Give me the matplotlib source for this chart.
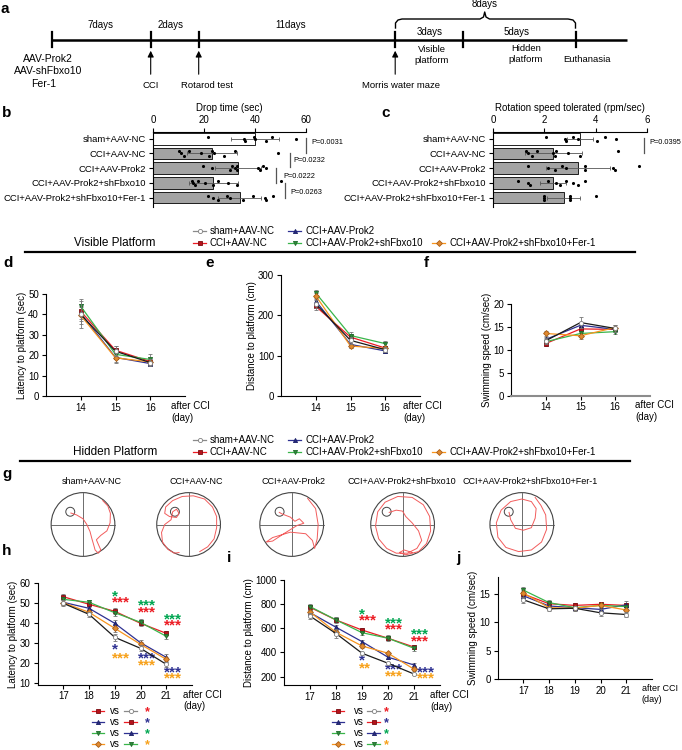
import numpy as np
import matplotlib
matplotlib.use('Agg')
import matplotlib.pyplot as plt
from matplotlib.patches import Circle

plt.rcParams['font.family'] = ['Liberation Sans', 'DejaVu Sans']
plt.rcParams['font.size'] = 7

W, H = 682, 750

groups = ['sham+AAV-NC', 'CCI+AAV-NC', 'CCI+AAV-Prok2',
          'CCI+AAV-Prok2+shFbxo10', 'CCI+AAV-Prok2+shFbxo10+Fer-1']

# ---- b: rotarod drop time (sec)
drop_mean = [40, 23, 33.5, 23.7, 34]
drop_err = [9.5, 9.8, 9, 9.5, 8.5]
drop_pts = [[21.5, 35.5, 36, 39.5, 40, 44.5, 46.5, 56],
            [10, 11, 12, 14, 19, 22, 23, 24, 28, 32, 49],
            [19.5, 23, 30, 31, 32, 33, 33, 41, 42, 43, 44.5],
            [15.2, 15.8, 16.5, 17.8, 20.4, 23.7, 25.6, 29.5, 32.8, 50],
            [21.7, 23.7, 25.6, 28.9, 30.2, 35.4, 39.3, 43.9, 44.3, 46.9]]
drop_p = ['P=0.0031', 'P=0.0232', 'P=0.0222', 'P=0.0263']

# ---- c: rotation speed tolerated (rpm/sec)
rot_mean = [3.4, 2.35, 3.3, 2.35, 2.75]
rot_err = [0.5, 1.1, 1.25, 0.5, 0.65]
rot_pts = [[2.05, 2.8, 2.85, 3.1, 3.3, 4.05, 4.35, 4.8],
           [1.3, 1.37, 1.5, 1.7, 2.35, 2.4, 2.47, 2.93, 3.38, 4.87],
           [1.37, 2.15, 2.4, 2.67, 2.86, 3.57, 3.57, 4.68, 4.74, 5.69],
           [0.98, 1.37, 1.46, 2.15, 2.47, 2.6, 2.86, 3.12, 3.32, 3.57],
           [1.98, 1.98, 1.98, 2.99, 2.99, 2.99, 4.0]]
rot_p = ['P=0.0395']

# ---- d-f: visible platform
days_vis = [14, 15, 16]
lat_vis = [[40, 22, 16.5], [41.5, 22.5, 17], [40.5, 19, 16], [44, 20.5, 18], [39.5, 18.8, 16.8]]
lat_vis_err = [[6.5, 2.5, 1.5], [3.5, 2, 1.5], [3.5, 2, 1.2], [3.5, 2.5, 2.5], [4, 2.5, 1.5]]
dist_vis = [[228, 138, 115], [222, 146, 119], [235, 128, 112], [255, 150, 130], [248, 124, 118]]
dist_vis_err = [[10, 8, 6], [8, 8, 6], [8, 8, 6], [8, 8, 6], [8, 6, 6]]
speed_vis = [[12.0, 16.0, 14.7], [11.4, 14.6, 14.5], [12.3, 15.4, 14.5],
             [11.8, 13.6, 14.0], [13.6, 13.1, 14.9]]
speed_vis_err = [[0.7, 1.3, 0.8], [0.5, 0.8, 0.6], [0.6, 0.8, 0.6], [0.6, 0.7, 0.5], [0.6, 0.7, 0.6]]

# ---- h-j: hidden platform
days_hid = [17, 18, 19, 20, 21]
lat_hid = [[50, 44.5, 33, 27.5, 19.5], [53.3, 49.5, 46, 40, 35], [50.5, 47.5, 40, 30.3, 23],
           [52, 50.5, 45.3, 40.5, 33.5], [50.3, 45.5, 37.5, 29.5, 22]]
lat_hid_err = [[1.5, 1.2, 1.8, 1.5, 1.3], [1.2, 1.2, 1.5, 1.5, 1.2], [1.2, 1.2, 1.5, 1.2, 1.8],
               [1.5, 1.2, 1.5, 1.5, 1.5], [1.2, 1.2, 2, 1.2, 1.2]]
dist_hid = [[702, 557, 394, 311, 222], [774, 669, 586, 518, 445], [730, 609, 490, 361, 297],
            [780, 670, 564, 518, 435], [735, 567, 454, 394, 262]]
dist_hid_err = [[25, 40, 12, 12, 10], [20, 25, 20, 18, 15], [20, 20, 12, 12, 12],
                [25, 20, 18, 25, 20], [20, 20, 15, 12, 12]]
speed_hid = [[14.0, 12.4, 12.5, 11.7, 11.4], [15.0, 13.3, 13.0, 13.2, 13.0],
             [14.7, 12.9, 12.6, 12.3, 13.1], [15.7, 13.5, 12.6, 13.0, 12.8],
             [15.2, 12.6, 12.5, 13.0, 12.2]]
speed_hid_err = [[0.5, 0.4, 0.4, 0.6, 0.5], [0.5, 0.4, 0.4, 0.4, 0.4], [0.6, 0.4, 0.4, 0.4, 0.7],
                 [0.6, 0.4, 0.4, 0.4, 0.5], [0.6, 0.4, 0.4, 0.4, 0.5]]

# significance marks (day, value, text, colour key)
h_stars = [(19, 54, '*', 'g'), (19, 51, '***', 'r'), (20, 49.5, '***', 'g'), (20, 46, '***', 'r'),
           (21, 42.5, '***', 'g'), (21, 39.5, '***', 'r'), (19, 27.5, '*', 'b'), (19, 23, '***', 'o'),
           (20, 23, '***', 'b'), (20, 19.5, '***', 'o'), (21, 16, '***', 'b'), (21, 13, '***', 'o')]
i_stars = [(19, 729, '*', 'g'), (19, 674, '***', 'r'), (20, 650, '***', 'g'), (20, 600, '***', 'r'),
           (21, 559, '***', 'g'), (21, 503, '***', 'r'), (19, 344, '*', 'b'), (19, 283, '**', 'o'),
           (20, 274, '***', 'b'), (20, 214, '***', 'o'), (21.2, 250, '***', 'b'), (21.2, 195, '***', 'o')]
star_col = {'r': '#ec1c24', 'b': '#2e3192', 'g': '#00a651', 'o': '#f7a11a'}

# swim traces (unit-circle coordinates)
platform_x = [-0.4, -0.43, -0.38, -0.5, -0.41]
traces = [
    [(-0.38, 0.36), (-0.2, 0.3), (0.0, 0.18), (0.12, 0.0), (0.22, -0.22), (0.28, -0.45), (0.33, -0.62),
     (0.38, -0.8), (0.48, -0.9), (0.56, -0.8), (0.48, -0.62), (0.42, -0.48), (0.56, -0.34), (0.75, -0.2),
     (0.85, 0.05), (0.86, 0.35), (0.78, 0.58), (0.62, 0.75)],
    [(0.35, -0.85), (0.6, -0.7), (0.8, -0.45), (0.88, -0.1), (0.88, 0.25), (0.75, 0.55), (0.5, 0.8),
     (0.15, 0.9), (-0.2, 0.88), (-0.5, 0.75), (-0.72, 0.55), (-0.75, 0.35), (-0.6, 0.25), (-0.38, 0.22),
     (-0.3, 0.35), (-0.38, 0.48), (-0.5, 0.4), (-0.55, 0.15), (-0.75, 0.0), (-0.85, -0.25),
     (-0.82, -0.55), (-0.65, -0.78), (-0.45, -0.9), (-0.3, -0.88)],
    [(0.5, 0.82), (0.75, 0.5), (0.83, 0.0), (0.8, -0.45), (0.72, -0.75), (0.65, -0.5), (0.44, -0.29),
     (-0.04, -0.24), (-0.6, -0.41), (-0.8, -0.55), (-0.6, -0.52), (-0.25, -0.29), (0.17, -0.03),
     (0.38, 0.04), (0.24, 0.18), (0.1, 0.1), (-0.04, 0.23), (-0.3, 0.33), (-0.39, 0.38)],
    [(-0.42, 0.38), (-0.2, 0.45), (0.0, 0.42), (0.1, 0.25), (0.3, 0.05), (0.5, -0.2), (0.6, -0.5),
     (0.45, -0.75), (0.15, -0.9), (-0.2, -0.9), (-0.5, -0.75), (-0.75, -0.45), (-0.85, -0.05),
     (-0.78, 0.4), (-0.55, 0.7), (-0.15, 0.88), (0.3, 0.85), (0.65, 0.62), (0.85, 0.25), (0.88, -0.2),
     (0.75, -0.6), (0.5, -0.85), (0.1, -0.95), (-0.1, -0.88), (0.05, -0.8), (0.3, -0.88)],
    [(-0.4, 0.38), (-0.35, 0.15), (-0.2, -0.12), (0.05, -0.18), (0.3, -0.1), (0.42, 0.2), (0.45, 0.5),
     (0.3, 0.72), (0.0, 0.8), (-0.35, 0.72), (-0.65, 0.45), (-0.8, 0.05), (-0.75, -0.4), (-0.5, -0.72),
     (-0.1, -0.85), (0.3, -0.8), (0.62, -0.55), (0.78, -0.15), (0.75, 0.3), (0.6, 0.6), (0.42, 0.85)],
]

line_colors = ['#1a1a1a', '#ec1c24', '#2e3192', '#39b54a', '#f7941d']
leg_colors = ['#8a8a8a', '#ec1c24', '#2e3192', '#39b54a', '#f7941d']
markers = ['o', 's', '^', 'v', 'D']
mfc = ['white', '#b5121b', '#262a80', '#2e8b3a', '#e08a30']
mec = ['#808080', '#7a0c10', '#1b1f66', '#1f6b2a', '#a85c15']


def box(l, t, r, b):
    return [l / W, 1 - b / H, (r - l) / W, (b - t) / H]


fig = plt.figure(figsize=(W / 100, H / 100), dpi=100)
ov = fig.add_axes([0, 0, 1, 1])
ov.set_xlim(0, W)
ov.set_ylim(H, 0)
ov.axis('off')

# panel letters
for s, x, y in [('a', 5, 9), ('b', 7, 113), ('c', 386, 113), ('d', 8, 263), ('e', 210, 263),
                ('f', 426, 263), ('g', 7, 474), ('h', 7, 551), ('i', 229, 558), ('j', 458, 558)]:
    ov.text(x, y, s, fontsize=11, fontweight='bold', ha='center', va='center')

# ---- a: timeline
ov.plot([51.5, 627], [39.5, 39.5], color='k', lw=1.8, solid_capstyle='butt')
for x in [51.5, 150.7, 198.7, 395.2, 463, 575.5]:
    ov.plot([x, x], [32, 47], color='k', lw=1.6)
for x in [150.7, 198.7, 395.2]:
    ov.annotate('', xy=(x, 48), xytext=(x, 77),
                arrowprops=dict(arrowstyle='-|>', color='k', lw=0.8, mutation_scale=9))
bx = [395.5, 395.5, 398, 402, 480, 483.5, 484.7, 486, 489.5, 568, 573, 575.5, 575.5]
by = [28, 23, 20, 19, 19, 17, 12, 17, 19, 19, 20, 23, 28]
ov.plot(bx, by, color='k', lw=1.0)
for s, x, y, fs in [('7days', 100, 25, 7), ('2days', 171, 25, 7), ('11days', 291, 25, 7),
                    ('8days', 485, 4, 7), ('3days', 430, 32, 7), ('5days', 517, 32, 7),
                    ('AAV-Prok2', 48, 59, 7.5), ('AAV-shFbxo10', 48, 71, 7.5), ('Fer-1', 44, 84, 7.5),
                    ('CCI', 150.7, 85, 6.8), ('Rotarod test', 207, 85, 6.8),
                    ('Morris water maze', 401, 85, 6.8), ('Visible\nplatform', 432, 55, 6.8),
                    ('Hidden\nplatform', 526, 54, 6.8), ('Euthanasia', 587, 60, 6.8)]:
    ov.text(x, y, s, fontsize=fs, ha='center', va='center', linespacing=1.3)


# ---- b, c: bar + dot panels
def bar_panel(ax, means, errs, pts, xmax, ticks, title, plines, ptexts):
    ypos = np.arange(len(groups))
    colors = ['white'] + ['#a3a3a3'] * 4
    ax.barh(ypos, means, height=0.8, color=colors, edgecolor='k', lw=0.6,
            xerr=errs, error_kw=dict(ecolor='#555555', elinewidth=0.6, capsize=1.5, capthick=0.6))
    for i, p in enumerate(pts):
        p = np.sort(p)
        off = (np.arange(len(p)) % 3 - 1) * 0.14
        ax.scatter(p, i + off, s=5, c='k', zorder=3, lw=0)
    ax.set_ylim(4.64, -0.46)
    ax.set_xlim(0, xmax)
    ax.set_yticks(ypos)
    ax.set_yticklabels(groups)
    ax.set_xticks(ticks)
    ax.xaxis.tick_top()
    ax.xaxis.set_label_position('top')
    ax.set_xlabel(title, fontsize=7, labelpad=3)
    for s in ['right', 'bottom']:
        ax.spines[s].set_visible(False)
    for s in ['left', 'top']:
        ax.spines[s].set_linewidth(0.8)
    ax.tick_params(length=3, width=0.8, pad=2, labelsize=7)
    ax.tick_params(axis='y', labelsize=6.8)
    for (x, y0, y1), (tx, ty, t) in zip(plines, ptexts):
        ax.plot([x, x], [y0, y1], color='#555555', lw=0.9, clip_on=False)
        ax.text(tx, ty, t, fontsize=5.3, va='center', ha='left', clip_on=False)


axb = fig.add_axes(box(153, 132, 306, 207))
bar_panel(axb, drop_mean, drop_err, drop_pts, 60, [0, 20, 40, 60], 'Drop time (sec)',
          [(60, -0.07, 0.96), (53.7, 0.96, 1.92), (48.2, 2.0, 3.0), (51.8, 3.0, 4.04)],
          [(62.2, 0.27, drop_p[0]), (55, 1.5, drop_p[1]), (51, 2.58, drop_p[2]), (53.7, 3.63, drop_p[3])])
axc = fig.add_axes(box(493, 132, 647, 207))
bar_panel(axc, rot_mean, rot_err, rot_pts, 6, [0, 2, 4, 6], 'Rotation speed tolerated (rpm/sec)',
          [(5.88, -0.07, 0.96)], [(6.1, 0.27, rot_p[0])])


# ---- legends
def glyph(x, y, k, length=13):
    ov.plot([x, x + length], [y, y], color=leg_colors[k], lw=0.9)
    ov.plot([x + length / 2], [y], marker=markers[k], ms=3, mfc=mfc[k], mec=mec[k], mew=0.6, ls='none')


def group_legend(y1, y2, title, yline, x0, x1):
    spots = [(193, y1), (193, y2), (288, y1), (288, y2), (432, y2)]
    for k, (x, y) in zip([0, 1, 2, 3, 4], spots):
        glyph(x, y, k)
        ov.text(x + 17, y, groups[k], fontsize=7, va='center', ha='left')
    ov.text(115, y2, title, fontsize=8.5, ha='center', va='center')
    ov.plot([x0, x1], [yline, yline], color='k', lw=1.6)


group_legend(231, 243, 'Visible Platform', 252, 25, 635)
group_legend(440, 452, 'Hidden Platform', 461, 20, 630)


# ---- line panels
def line_panel(ax, days, vals, errs, xlim, ylim, yticks, ylabel, xoff, afs=7):
    for k in [1, 2, 3, 4, 0]:
        ax.errorbar(days, vals[k], yerr=errs[k], color=line_colors[k], lw=0.9,
                    marker=markers[k], ms=3, mfc=mfc[k], mec=mec[k], mew=0.6,
                    ecolor='#777777', elinewidth=0.6, capsize=1.2, capthick=0.6,
                    zorder=4 if k == 0 else 3)
    ax.set_xlim(*xlim)
    ax.set_ylim(*ylim)
    ax.set_xticks(days)
    ax.set_yticks(yticks)
    for s in ['top', 'right']:
        ax.spines[s].set_visible(False)
    for s in ['left', 'bottom']:
        ax.spines[s].set_linewidth(0.8)
    ax.tick_params(length=3, width=0.8, pad=2, labelsize=7)
    ax.set_ylabel(ylabel, fontsize=7, labelpad=1)
    ax.annotate('after CCI\n(day)', xy=(1, 0), xycoords='axes fraction', xytext=(xoff, -5),
                textcoords='offset pixels', ha='left', va='top', fontsize=afs, linespacing=1.2)


axd = fig.add_axes(box(46, 294, 185, 396.3))
line_panel(axd, days_vis, lat_vis, lat_vis_err, (13, 17), (0, 50), range(0, 51, 10),
           'Latency to platform (sec)', -14)
axe = fig.add_axes(box(281, 274.7, 420, 396.3))
line_panel(axe, days_vis, dist_vis, dist_vis_err, (13, 17), (0, 300), [0, 100, 200, 300],
           'Distance to platform (cm)', -17)
axf = fig.add_axes(box(511, 304.3, 650, 395.5))
line_panel(axf, days_vis, speed_vis, speed_vis_err, (13, 17), (0, 20), range(0, 21, 5),
           'Swimming speed (cm/sec)', -15)
axf.spines['bottom'].set_color('#8c8c8c')
axf.spines['bottom'].set_linewidth(1.5)

axh = fig.add_axes(box(37.5, 583.3, 192, 684.5))
line_panel(axh, days_hid, lat_hid, lat_hid_err, (16, 22), (9.4, 60), range(10, 61, 10),
           'Latency to platform (sec)', -9)
axi = fig.add_axes(box(284, 580, 440, 685))
line_panel(axi, days_hid, dist_hid, dist_hid_err, (16, 22), (131, 1000), range(200, 1001, 200),
           'Distance to platform (cm)', -10)
axj = fig.add_axes(box(497.5, 577, 652, 679.3))
line_panel(axj, days_hid, speed_hid, speed_hid_err, (16, 22), (0, 18), [0, 5, 10, 15],
           'Swimming speed (cm/sec)', -10, afs=6.5)

for ax, stars in [(axh, h_stars), (axi, i_stars)]:
    for x, y, s, c in stars:
        ha = 'center' if len(s) == 1 else 'left'
        xx = x if len(s) == 1 else x - 0.1
        ax.text(xx, y, s, color=star_col[c], fontsize=11, fontweight='bold', ha=ha,
                va='center_baseline', clip_on=False)

# "vs" legends under h and i
pairs = [(1, 0, 'r'), (2, 1, 'b'), (3, 2, 'g'), (4, 3, 'o')]
for xa, xvs, xb, xs in [(91.5, 110, 124, 147), (331.5, 354, 367, 386)]:
    for (a, b, c), y in zip(pairs, [711, 722, 733, 744]):
        glyph(xa, y, a, 12)
        ov.text(xvs, y, 'vs', fontsize=7, va='center', ha='left')
        glyph(xb, y, b, 13)
        ov.text(xs, y + 4, '*', color=star_col[c], fontsize=9, fontweight='bold', ha='center',
                va='baseline')

# ---- g: representative swim paths
centers = [83, 188.6, 291.7, 402.6, 521.8]
title_x = [92, 196, 294, 402, 530]
for k in range(5):
    ax = fig.add_axes(box(centers[k] - 36, 524.5 - 36, centers[k] + 36, 524.5 + 36))
    ax.set_xlim(-1.13, 1.13)
    ax.set_ylim(-1.13, 1.13)
    ax.axis('off')
    ax.add_patch(Circle((0, 0), 1, fill=False, ec='#444444', lw=0.8))
    ax.plot([-1, 1], [0, 0], color='#555555', lw=0.6)
    ax.plot([0, 0], [-1, 1], color='#555555', lw=0.6)
    ax.add_patch(Circle((platform_x[k], 0.4), 0.14, fill=False, ec='#444444', lw=0.7))
    tx, ty = zip(*traces[k])
    ax.plot(tx, ty, color='#f25c5c', lw=0.7, solid_joinstyle='round')
    ov.text(title_x[k], 482, groups[k], fontsize=6.5, ha='center', va='center')

fig.savefig('out.png', dpi=100)
